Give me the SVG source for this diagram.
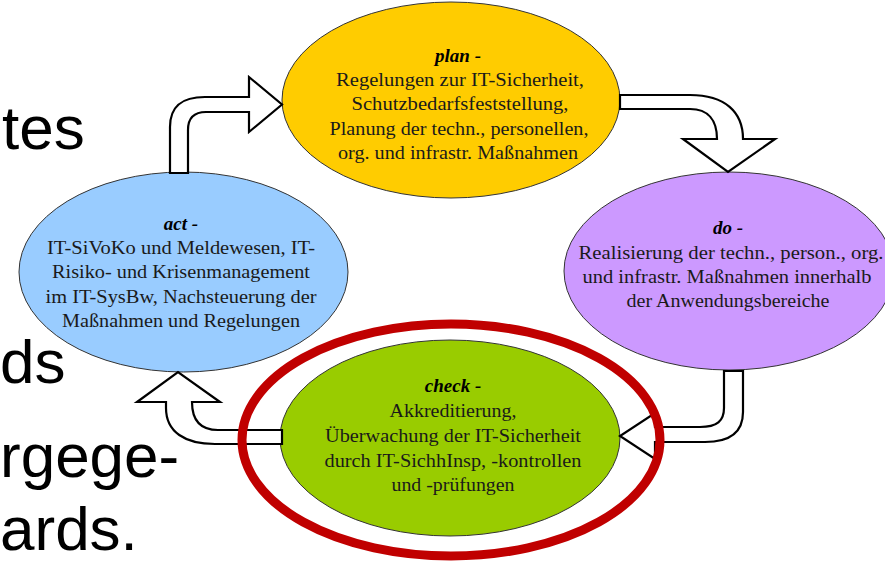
<svg xmlns="http://www.w3.org/2000/svg" width="885" height="562" viewBox="0 0 885 562">
<style>
.bg{font-family:"Liberation Sans",Arial,sans-serif;font-size:62px;fill:#000}
.t{font-family:"Liberation Serif","Times New Roman",serif;font-size:18.5px;fill:#1a1a1a;text-anchor:middle}
.h{font-family:"Liberation Serif","Times New Roman",serif;font-size:19px;font-weight:bold;font-style:italic;fill:#000;text-anchor:middle}
.node{stroke:#333;stroke-width:1}
.arrow{fill:#fff;stroke:#000;stroke-width:2.2;stroke-linejoin:miter}
</style>
<rect width="885" height="562" fill="#fff"/>
<g id="background-text">
<text class="bg" x="2" y="149">tes</text>
<text class="bg" x="0" y="383">ds</text>
<text class="bg" x="0" y="477">rgege-</text>
<text class="bg" x="0" y="550">ards.</text>
</g>
<g id="plan">
<ellipse class="node" cx="451" cy="100" rx="169" ry="98" fill="#FFCC00"/>
<text class="h" x="458" y="62">plan -</text>
<text class="t" x="460" y="86" textLength="248" lengthAdjust="spacingAndGlyphs">Regelungen zur IT-Sicherheit,</text>
<text class="t" x="460" y="110" textLength="217" lengthAdjust="spacingAndGlyphs">Schutzbedarfsfeststellung,</text>
<text class="t" x="459" y="135" textLength="259" lengthAdjust="spacingAndGlyphs">Planung der techn., personellen,</text>
<text class="t" x="458" y="159" textLength="240" lengthAdjust="spacingAndGlyphs">org. und infrastr. Maßnahmen</text>
</g>
<g id="do">
<ellipse class="node" cx="729" cy="271" rx="165" ry="99" fill="#CC99FF"/>
<text class="h" x="728" y="234">do -</text>
<text class="t" x="731" y="259" textLength="305" lengthAdjust="spacingAndGlyphs">Realisierung der techn., person., org.</text>
<text class="t" x="727" y="283" textLength="289" lengthAdjust="spacingAndGlyphs">und infrastr. Maßnahmen innerhalb</text>
<text class="t" x="728" y="307" textLength="203" lengthAdjust="spacingAndGlyphs">der Anwendungsbereiche</text>
</g>
<g id="check">
<ellipse class="node" cx="450" cy="438" rx="170" ry="98" fill="#99CC00"/>
<text class="h" x="453" y="392">check -</text>
<text class="t" x="453" y="417" textLength="127" lengthAdjust="spacingAndGlyphs">Akkreditierung,</text>
<text class="t" x="453" y="442" textLength="256" lengthAdjust="spacingAndGlyphs">Überwachung der IT-Sicherheit</text>
<text class="t" x="453" y="467" textLength="257" lengthAdjust="spacingAndGlyphs">durch IT-SichhInsp, -kontrollen</text>
<text class="t" x="453" y="491" textLength="123" lengthAdjust="spacingAndGlyphs">und -prüfungen</text>
</g>
<g id="act">
<ellipse class="node" cx="183.5" cy="272" rx="164.5" ry="100" fill="#99CCFF"/>
<text class="h" x="181" y="230">act -</text>
<text class="t" x="181" y="254" textLength="268" lengthAdjust="spacingAndGlyphs">IT-SiVoKo und Meldewesen, IT-</text>
<text class="t" x="181" y="278" textLength="258" lengthAdjust="spacingAndGlyphs">Risiko- und Krisenmanagement</text>
<text class="t" x="181" y="303" textLength="271" lengthAdjust="spacingAndGlyphs">im IT-SysBw, Nachsteuerung der</text>
<text class="t" x="181" y="327" textLength="238" lengthAdjust="spacingAndGlyphs">Maßnahmen und Regelungen</text>
</g>
<g id="connectors">
<path class="arrow" d="M170,173 L170,127 C170,106 182,97 205,97 L249,97 L249,77 L282,104.5 L249,132 L249,112 L206,112 C194,112 188,118 188,130 L188,173 Z"/>
<path class="arrow" d="M620,95 L690,95 C725,95 743,112 743,139 L775,139 L728,172 L683,139 L717,139 C717,120 708,109 690,109 L620,109 Z"/>
<path class="arrow" d="M724,371 L724,408 C724,421 717,427 700,427 L655,427 L655,413 L620,436 L655,459 L655,442 L705,442 C730,442 743,432 743,412 L743,371 Z"/>
<path class="arrow" d="M282,430 L218,430 C200,430 192,420 192,402 L220,402 L178,372 L137,402 L166,402 L166,408 C166,432 185,444 215,444 L282,444 Z"/>
</g>
<g id="highlight">
<ellipse cx="451" cy="440" rx="209" ry="116" fill="none" stroke="#C00000" stroke-width="9"/>
</g>
</svg>
